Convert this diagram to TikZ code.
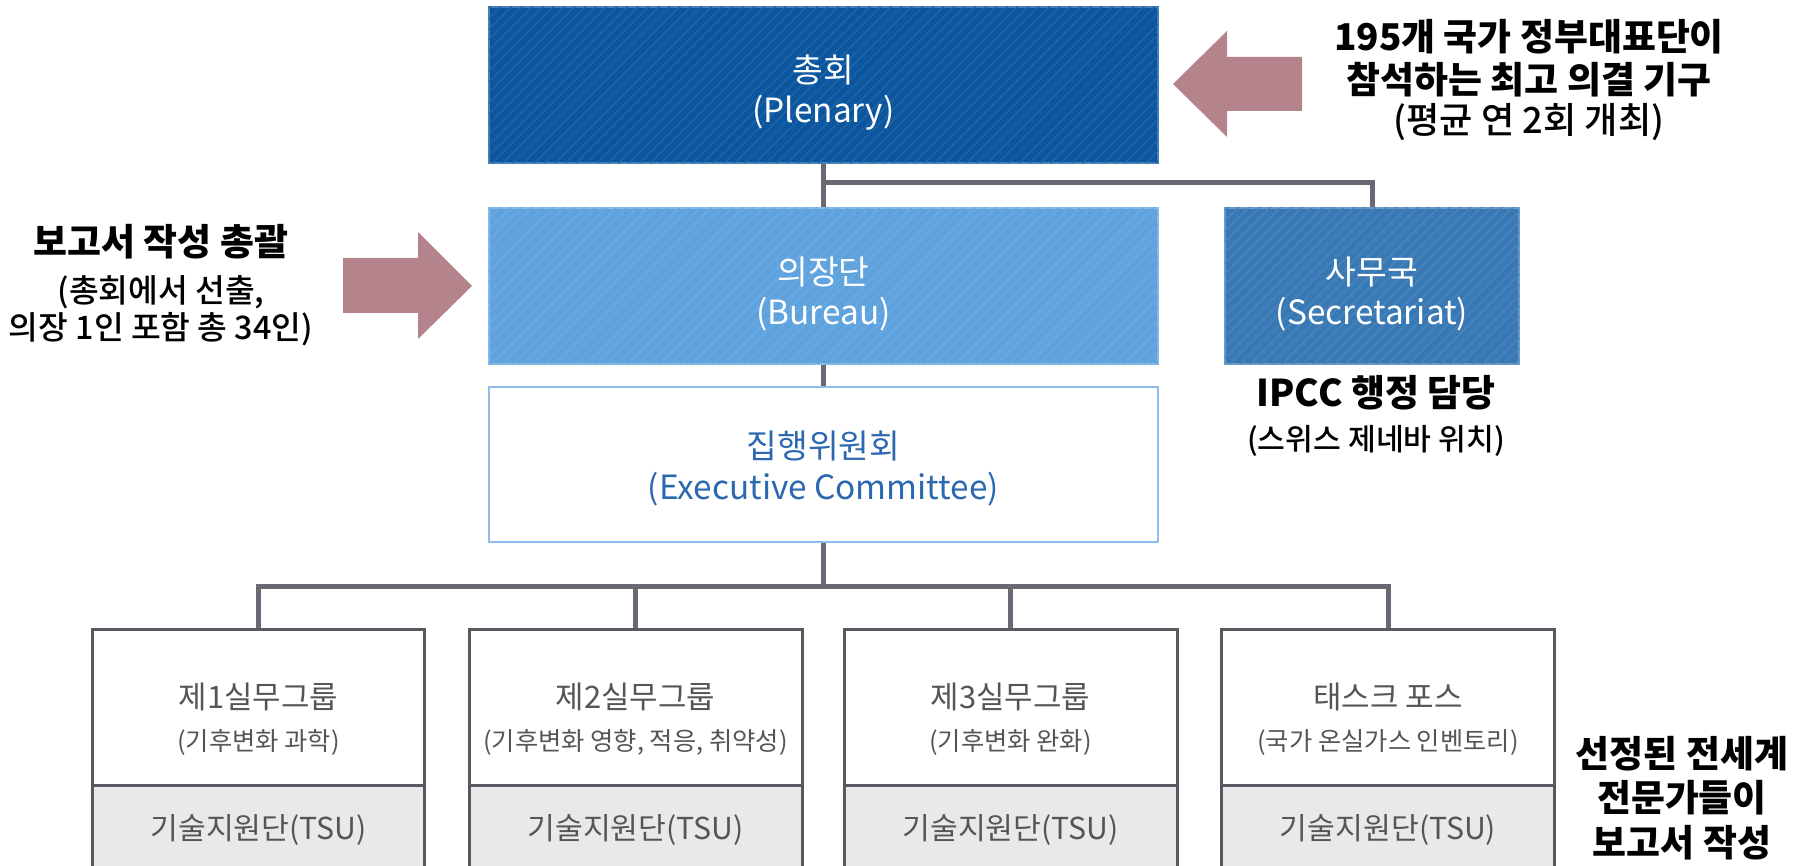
\documentclass[tikz,border=0pt]{standalone}
\usepackage{fontspec}
\setmainfont{Noto Sans CJK KR}
\newfontfamily\medfont{Noto Sans CJK KR Medium}
\usetikzlibrary{patterns}

\definecolor{plenblue}{HTML}{0B569E}
\definecolor{burblue}{HTML}{5EA2DE}
\definecolor{secblue}{HTML}{3879B5}
\definecolor{exeline}{HTML}{8DBBEA}
\definecolor{exetext}{HTML}{2B68B0}
\definecolor{linkgray}{HTML}{6B6874}
\definecolor{boxgray}{HTML}{5A5860}
\definecolor{tsugray}{HTML}{E9E9E9}
\definecolor{wgtext}{HTML}{555555}
\definecolor{mauve}{HTML}{B5838B}

\newcommand{\notebold}[1]{{\normalfont\bfseries\fontsize{10.5pt}{12pt}\selectfont #1}}

\tikzset{
  orgbox/.style={minimum width=66.9mm, minimum height=15.6mm, inner sep=0pt},
  boxtxt/.style={align=center, yshift=-0.8mm, font=\fontsize{9.5pt}{11.4pt}\selectfont},
  bluebox/.style={orgbox, fill=#1, draw=#1!75!white, line width=0.15mm,
    postaction={pattern=north east lines, pattern color=#1!92!white}},
  wgbox/.style={minimum width=33.3mm, minimum height=15.6mm, fill=white, draw=boxgray,
    line width=0.3mm, inner sep=0pt},
  wgtxt/.style={align=center, text=wgtext, font=\fontsize{8.8pt}{12pt}\selectfont},
  tsubox/.style={wgbox, wgtxt, fill=tsugray, minimum height=8.8mm, font=\fontsize{8.6pt}{10pt}\selectfont},
  link/.style={draw=linkgray, line width=0.5mm},
  note/.style={align=center, font=\medfont\fontsize{9.2pt}{12pt}\selectfont},
}

\begin{document}
\begin{tikzpicture}[x=0.1mm,y=-0.1mm]
  \useasboundingbox (0,0) rectangle (1804,866);
  % upper part: plenary, bureau, secretariat, executive committee
  \node[bluebox=plenblue, label={[boxtxt, text=white]center:{총회\\(Plenary)}}]
    (plen) at (823.5,85) {};
  \node[bluebox=burblue, label={[boxtxt, text=white]center:{의장단\\(Bureau)}}]
    (bur) at (823.5,286) {};
  \node[bluebox=secblue, minimum width=29.4mm, label={[boxtxt, text=white]center:{사무국\\(Secretariat)}}]
    (sec) at (1372,286) {};
  \node[orgbox, draw=exeline, line width=0.2mm, minimum height=15.5mm,
    label={[boxtxt, text=exetext, yshift=0.4mm]center:{집행위원회\\(Executive Committee)}}]
    (exe) at (823.5,464.5) {};
  % working groups and task force
  \foreach \nm/\cx/\ttl/\sub in {wg1/258.5/제1실무그룹/(기후변화 과학),
      wg2/635.5/제2실무그룹/{(기후변화 영향, 적응, 취약성)},
      wg3/1010.5/제3실무그룹/(기후변화 완화),
      tf/1388/태스크 포스/(국가 온실가스 인벤토리)} {
    \node[wgbox, label={[wgtxt, yshift=-1.1mm]center:{\ttl\\{\fontsize{7.2pt}{8pt}\selectfont\sub}}}]
      (\nm) at (\cx,708) {};
    \node[tsubox] (\nm tsu) at (\cx,830) {기술지원단(TSU)};
  }
  % connectors
  \coordinate (topfork) at (823.5,183);
  \coordinate (wgfork)  at (823.5,587);
  \draw[link] (plen.south) -- (bur.north);
  \draw[link] (topfork) -| (sec.north);
  \draw[link] (bur.south) -- (exe.north);
  \draw[link] (exe.south) -- (wgfork);
  \draw[link] (wg1.north) |- (wgfork) -| (tf.north);
  \foreach \nm in {wg2,wg3}
    \draw[link] (\nm.north) -- (\nm.north |- wgfork);
  % block arrows
  \fill[mauve] (1173,84) -- (1227,31) -- (1227,57) -- (1302,57) -- (1302,111)
               -- (1227,111) -- (1227,137) -- cycle;
  \fill[mauve] (472,286) -- (418,232) -- (418,258) -- (343,258) -- (343,313)
               -- (418,313) -- (418,339) -- cycle;
  % side notes
  \node[note, font=\medfont\fontsize{10.3pt}{12.2pt}\selectfont] (plennote) at (1529,80)
    {\notebold{195개 국가 정부대표단이}\\\notebold{참석하는 최고 의결 기구}\\[-0.7pt](평균 연 2회 개최)};
  \node[note] (burnote)  at (161,285)
    {\notebold{보고서 작성 총괄}\\[1.4pt](총회에서 선출,\\[-1.4pt]의장 1인 포함 총 34인)};
  \node[note, font=\medfont\fontsize{8.6pt}{12pt}\selectfont] (secnote) at (1376,416)
    {\notebold{IPCC 행정 담당}\\[0.5pt](스위스 제네바 위치)};
  \node[note, font=\normalfont\bfseries\fontsize{10.5pt}{12.6pt}\selectfont] (wgnote) at (1682,798)
    {선정된 전세계\\전문가들이\\보고서 작성};
\end{tikzpicture}
\end{document}
